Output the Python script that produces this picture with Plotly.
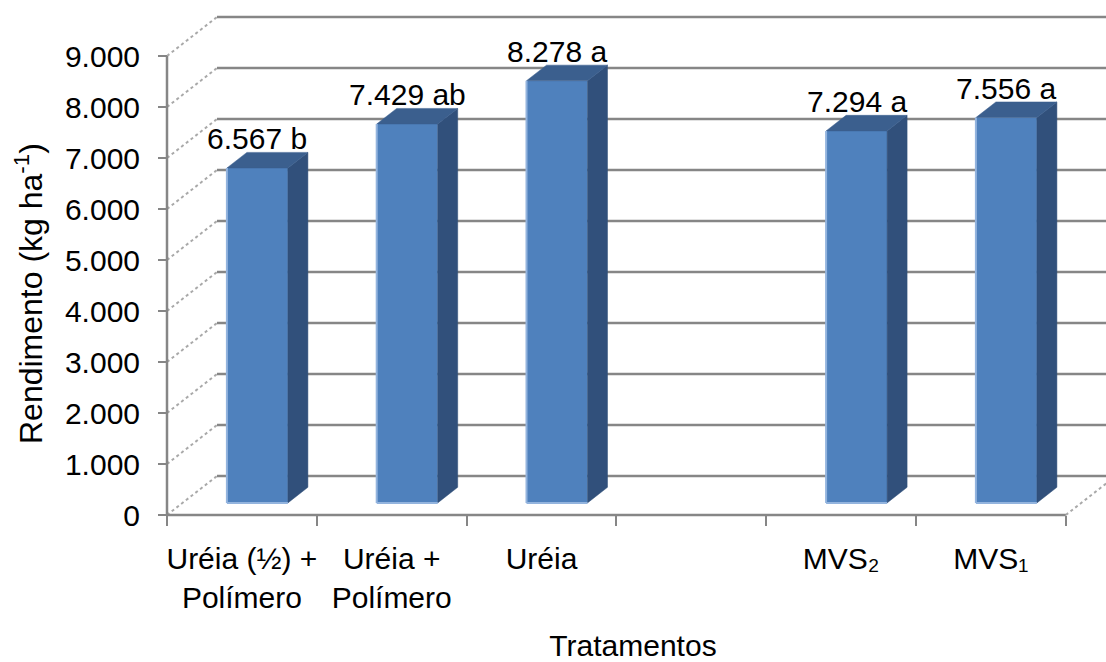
import plotly.graph_objects as go

# ---------------- data ----------------
categories = ["Uréia (½) +<br>Polímero", "Uréia +<br>Polímero", "Uréia", "", "MVS₂", "MVS₁"]
values = [6567, 7429, 8278, None, 7294, 7556]
letters = ["b", "ab", "a", "", "a", "a"]
y_ticks = [0, 1000, 2000, 3000, 4000, 5000, 6000, 7000, 8000, 9000]
y_tick_labels = ["0", "1.000", "2.000", "3.000", "4.000", "5.000", "6.000", "7.000", "8.000", "9.000"]
x_title = "Tratamentos"
y_title = "Rendimento (kg ha<sup>-1</sup>)"

# ---------------- geometry / style ----------------
W, H = 1106, 662
ML, MR, MT, MB = 160, 0, 10, 132
AX_X_PX = 167          # pixel of front vertical axis
AX_Y_PX = 515          # pixel of front floor line
PX_PER_CAT = 149.8
PX_PER_VAL = 0.051
DEPTH_X = 50 / PX_PER_CAT      # full depth offset (x units)
DEPTH_Y = 39 / PX_PER_VAL      # full depth offset (value units)
BAR_SHIFT = 0.31               # depth fraction of bar front face
BAR_DEPTH = 0.40               # depth fraction of bar thickness
BAR_W = 61 / PX_PER_CAT

plot_w = W - ML - MR
plot_h = H - MT - MB
x_min = -0.5 - (AX_X_PX - ML) / PX_PER_CAT
x_max = x_min + plot_w / PX_PER_CAT
y_min = -((H - MB) - AX_Y_PX) / PX_PER_VAL
y_max = y_min + plot_h / PX_PER_VAL

GRID = "#868686"
DIAG = "#A9A9A9"
FRONT = "#4F81BD"
SIDE = "#31507B"
TOP = "#3B5F8E"
EDGE = "#93B4DE"
FONT = "Liberation Sans, Arial, sans-serif"
FS = 30

fig = go.Figure()
shapes = []
n = len(categories)
left_edge = -0.5
right_edge = n - 0.5

# side wall diagonals and back wall grid lines
for v in y_ticks:
    shapes.append(dict(type="line", xref="x", yref="y", layer="below",
                       x0=left_edge, y0=v, x1=left_edge + DEPTH_X, y1=v + DEPTH_Y,
                       line=dict(color=DIAG, width=2, dash="dot")))
    shapes.append(dict(type="line", xref="x", yref="y", layer="below",
                       x0=left_edge + DEPTH_X, y0=v + DEPTH_Y, x1=x_max + 1, y1=v + DEPTH_Y,
                       line=dict(color=GRID, width=2.5)))
# floor right diagonal
shapes.append(dict(type="line", xref="x", yref="y", layer="below",
                   x0=right_edge, y0=0, x1=right_edge + DEPTH_X, y1=DEPTH_Y,
                   line=dict(color=DIAG, width=2, dash="dot")))
# front axis lines
shapes.append(dict(type="line", xref="x", yref="y", layer="above",
                   x0=left_edge, y0=0, x1=left_edge, y1=y_ticks[-1],
                   line=dict(color=GRID, width=2.5)))
shapes.append(dict(type="line", xref="x", yref="y", layer="above",
                   x0=left_edge, y0=0, x1=right_edge, y1=0,
                   line=dict(color=GRID, width=2.5)))

sx = BAR_SHIFT * DEPTH_X
sy = BAR_SHIFT * DEPTH_Y
bdx = BAR_DEPTH * DEPTH_X
bdy = BAR_DEPTH * DEPTH_Y

bx, bv = [], []
side_x, side_y, top_x, top_y, edge_x, edge_y = [], [], [], [], [], []
annotations = []
for i, (v, let) in enumerate(zip(values, letters)):
    if v is None:
        continue
    xc = i + sx
    xl, xr = xc - BAR_W / 2, xc + BAR_W / 2
    bx.append(xc)
    bv.append(v)
    side_x += [xr, xr, xr + bdx, xr + bdx, xr, None]
    side_y += [sy, sy + v, sy + v + bdy, sy + bdy, sy, None]
    top_x += [xl, xr, xr + bdx, xl + bdx, xl, None]
    top_y += [sy + v, sy + v, sy + v + bdy, sy + v + bdy, sy + v, None]
    edge_x += [xl, xl, None, xl, xr, None]
    edge_y += [sy + v, sy, None, sy, sy, None]
    label = f"{v:,}".replace(",", ".") + " " + let
    annotations.append(dict(x=xc, y=sy + v + bdy, xref="x", yref="y", text=label,
                            showarrow=False, yanchor="bottom", yshift=-5,
                            font=dict(family=FONT, size=FS, color="black")))

# y-axis title (rotated), positioned as in the reference
annotations.append(dict(text=y_title, xref="paper", yref="paper",
                        x=(29 - ML) / plot_w, y=((H - MB) - 294) / plot_h,
                        xanchor="center", yanchor="middle", textangle=-90,
                        showarrow=False, font=dict(family=FONT, size=32, color="black")))

fig.add_trace(go.Bar(x=bx, y=bv, base=sy, width=BAR_W,
                     marker=dict(color=FRONT, line=dict(width=0)),
                     showlegend=False, hoverinfo="skip"))
fig.add_trace(go.Scatter(x=side_x, y=side_y, mode="lines", fill="toself",
                         fillcolor=SIDE, line=dict(color=SIDE, width=0.5),
                         showlegend=False, hoverinfo="skip"))
fig.add_trace(go.Scatter(x=top_x, y=top_y, mode="lines", fill="toself",
                         fillcolor=TOP, line=dict(color=TOP, width=0.5),
                         showlegend=False, hoverinfo="skip"))
fig.add_trace(go.Scatter(x=edge_x, y=edge_y, mode="lines",
                         line=dict(color=EDGE, width=2),
                         showlegend=False, hoverinfo="skip"))

boundaries = [i - 0.5 for i in range(n + 1)]
label_idx = [i for i, c in enumerate(categories) if c]

fig.update_layout(
    width=W, height=H,
    margin=dict(l=ML, r=MR, t=MT, b=MB, pad=0),
    paper_bgcolor="white", plot_bgcolor="white",
    font=dict(family=FONT, size=FS, color="black"),
    shapes=shapes, annotations=annotations,
    showlegend=False,
    xaxis=dict(range=[x_min, x_max], anchor="free",
               position=((H - MB) - AX_Y_PX) / plot_h,
               showgrid=False, zeroline=False, showline=False,
               tickmode="array", tickvals=label_idx,
               ticktext=[categories[i] for i in label_idx],
               ticks="", ticklabelstandoff=23,
               tickfont=dict(family=FONT, size=FS, color="black"),
               minor=dict(tickmode="array", tickvals=boundaries, ticks="outside",
                          ticklen=10, tickwidth=2, tickcolor=GRID, showgrid=False),
               title=dict(text=x_title, standoff=27,
                          font=dict(family=FONT, size=FS, color="black"))),
    yaxis=dict(range=[y_min, y_max], anchor="free",
               position=(AX_X_PX - ML) / plot_w,
               showgrid=False, zeroline=False, showline=False,
               tickmode="array", tickvals=y_ticks, ticktext=y_tick_labels,
               ticks="outside", ticklen=9, tickwidth=2, tickcolor=GRID,
               ticklabelstandoff=12,
               tickfont=dict(family=FONT, size=FS, color="black")),
)

fig.write_html("out.html")
